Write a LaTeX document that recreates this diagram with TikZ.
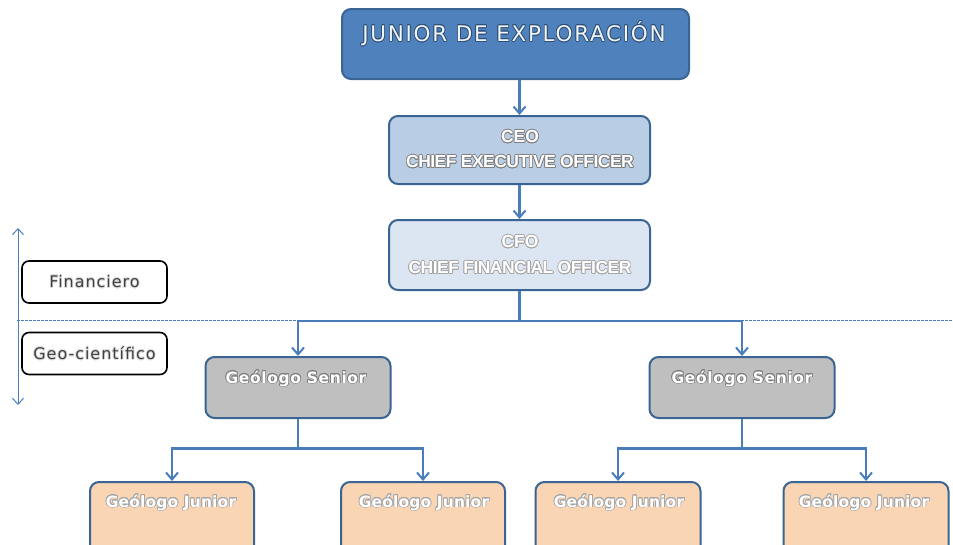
\documentclass[tikz,border=0pt]{standalone}
\usepackage{fontspec}
\setmainfont{DejaVu Sans}
\newfontfamily\narrowfont{Liberation Sans}
\usepackage{contour}
\contourlength{0.7pt}
\usetikzlibrary{arrows.meta}
\definecolor{topfill}{HTML}{4F81BD}
\definecolor{bord}{HTML}{3A6494}
\definecolor{ceofill}{HTML}{B9CDE5}
\definecolor{cfofill}{HTML}{DCE6F2}
\definecolor{senfill}{HTML}{BFBFBF}
\definecolor{junfill}{HTML}{FAD5B4}
\definecolor{conncol}{HTML}{4A7EBB}
\definecolor{glow}{HTML}{7F7F7F}
\definecolor{labtext}{HTML}{404040}
\tikzset{
  box/.style={draw=bord, line width=2pt, rounded corners=9pt, inner sep=0pt},
  conn/.style={draw=conncol, line width=2.1pt, -{Straight Barb[length=7pt,width=12pt,line width=2pt]}},
  wtext/.style={text=white, inner sep=0pt, align=center},
  labbox/.style={draw=black, line width=1.6pt, rounded corners=7pt, fill=white, minimum width=145pt, minimum height=42pt, inner sep=0pt, text=labtext},
}
\begin{document}
\begin{tikzpicture}[x=1pt,y=-1pt]
\useasboundingbox (0,0) rectangle (953,544);
% dashed divider and left double arrow
\coordinate (dl) at (17,320);
\coordinate (dr) at (953,320);
\draw[conncol, line width=0.8pt, dash pattern=on 2.5pt off 1.5pt] (dl) -- (dr);
\coordinate (au) at (18,228);
\coordinate (ad) at (18,405);
\draw[conncol, line width=1pt, {Straight Barb[length=6pt,width=11pt]}-{Straight Barb[length=6pt,width=11pt]}] (au) -- (ad);
% label boxes
\node[labbox] (fin) at (94.5,282) {\fontsize{16}{18}\selectfont\addfontfeature{LetterSpace=6}\contour{white!75!gray}{Financiero}};
\node[labbox] (geo) at (94.5,353.5) {\fontsize{16}{18}\selectfont\addfontfeature{LetterSpace=6}\contour{white!75!gray}{Geo-científico}};
% boxes
\node[box, fill=topfill, minimum width=347pt, minimum height=70pt] (top) at (515.5,44) {};
\node[box, fill=ceofill, minimum width=261pt, minimum height=68pt] (ceo) at (519.5,150) {};
\node[box, fill=cfofill, minimum width=261pt, minimum height=70pt] (cfo) at (519.5,255) {};
\node[box, fill=senfill, minimum width=185pt, minimum height=61pt] (sl) at (298,387.5) {};
\node[box, fill=senfill, minimum width=185pt, minimum height=61pt] (sr) at (742,387.5) {};
\node[box, fill=junfill, minimum width=164pt, minimum height=80pt] (j1) at (172,522) {};
\node[box, fill=junfill, minimum width=164pt, minimum height=80pt] (j2) at (423,522) {};
\node[box, fill=junfill, minimum width=165pt, minimum height=80pt] (j3) at (618,522) {};
\node[box, fill=junfill, minimum width=165pt, minimum height=80pt] (j4) at (866,522) {};
% texts
\node[wtext, text=white!92!topfill] (ttop) at (514,34) {\fontsize{21.5}{24}\selectfont\addfontfeature{LetterSpace=8}\contour{bord!80!black}{JUNIOR DE EXPLORACIÓN}};
\node[wtext] (tceo1) at (520,137) {\narrowfont\bfseries\fontsize{17.5}{20}\selectfont\contour{glow}{CEO}};
\node[wtext] (tceo2) at (520,162) {\narrowfont\bfseries\fontsize{17.5}{20}\selectfont\addfontfeature{LetterSpace=-3}\contour{glow}{CHIEF EXECUTIVE OFFICER}};
\node[wtext] (tcfo1) at (520,242) {\narrowfont\bfseries\fontsize{17.5}{20}\selectfont\contour{glow!70!white}{CFO}};
\node[wtext] (tcfo2) at (520,268) {\narrowfont\bfseries\fontsize{17.5}{20}\selectfont\addfontfeature{LetterSpace=-3}\contour{glow!70!white}{CHIEF FINANCIAL OFFICER}};
\node[wtext] (tsl) at (296,379) {\bfseries\fontsize{15.5}{18}\selectfont\addfontfeature{LetterSpace=4}\contour{glow}{Geólogo Senior}};
\node[wtext] (tsr) at (742,379) {\bfseries\fontsize{15.5}{18}\selectfont\addfontfeature{LetterSpace=4}\contour{glow}{Geólogo Senior}};
\node[wtext] (tj1) at (171,503) {\bfseries\fontsize{15.5}{18}\selectfont\addfontfeature{LetterSpace=1}\contour{glow!70!white}{Geólogo Junior}};
\node[wtext] (tj2) at (424,503) {\bfseries\fontsize{15.5}{18}\selectfont\addfontfeature{LetterSpace=1}\contour{glow!70!white}{Geólogo Junior}};
\node[wtext] (tj3) at (619,503) {\bfseries\fontsize{15.5}{18}\selectfont\addfontfeature{LetterSpace=1}\contour{glow!70!white}{Geólogo Junior}};
\node[wtext] (tj4) at (864,503) {\bfseries\fontsize{15.5}{18}\selectfont\addfontfeature{LetterSpace=1}\contour{glow!70!white}{Geólogo Junior}};
% connectors
\draw[conn] (top.south -| ceo.north) -- (ceo.north);
\draw[conn] (ceo.south) -- (cfo.north);
\draw[conn] (cfo.south) -- ++(0,30) -| (sl.north);
\draw[conn] (cfo.south) -- ++(0,30) -| (sr.north);
\draw[conn] (sl.south) -- ++(0,29.5) -| (j1.north);
\draw[conn] (sl.south) -- ++(0,29.5) -| (j2.north);
\draw[conn] (sr.south) -- ++(0,29.5) -| (j3.north);
\draw[conn] (sr.south) -- ++(0,29.5) -| (j4.north);
\end{tikzpicture}
\end{document}
